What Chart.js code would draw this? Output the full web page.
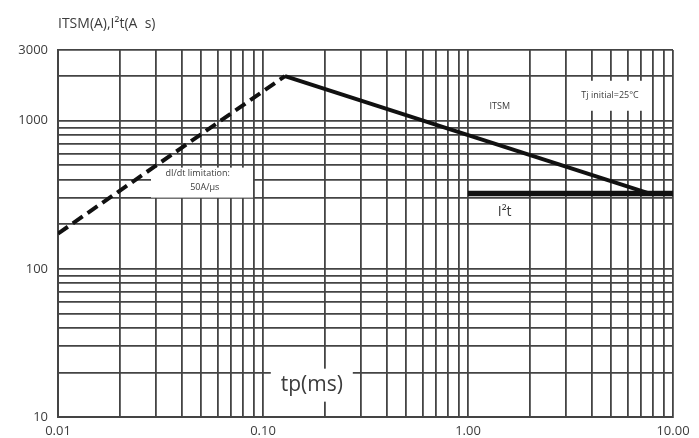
<!DOCTYPE html>
<html>
<head>
<meta charset="utf-8">
<script src="https://cdn.jsdelivr.net/npm/chart.js@4/dist/chart.umd.min.js"></script>
<style>
    html, body { margin: 0; padding: 0; background: #fff; }
    #wrap { width: 699px; height: 438px; }
</style>
</head>
<body>
<div id="wrap"><canvas id="chart" width="699" height="438"></canvas></div>
<script>
// grid values (log-paper lines) and labelled ticks
const xGrid = [0.01, 0.02, 0.03, 0.04, 0.05, 0.06, 0.07, 0.08, 0.09,
               0.1, 0.2, 0.3, 0.4, 0.5, 0.6, 0.7, 0.8, 0.9,
               1, 2, 3, 4, 5, 6, 7, 8, 9, 10];
const yGrid = [10, 20, 30, 40, 50, 60, 70, 80, 90,
               100, 200, 300, 400, 500, 600, 700, 800, 900,
               1000, 2000, 3000];
const xLabelled = [0.01, 0.1, 1, 10];
const yLabelled = [10, 100, 1000, 3000];

// curves
const dashX = [0.01, 0.128];
const dashY = [173, 2000];
const itsmX = [0.128, 7.7];
const itsmY = [2000, 322];
const i2tX = [1, 10];
const i2tY = [322, 322];

const toPoints = (xs, ys) => xs.map((x, i) => ({x: x, y: ys[i]}));

const gridColor = '#444';
const textColor = '#3c3c3c';
const fontFamily = "'Open Sans', 'DejaVu Sans', sans-serif";

const notes = {
    id: 'notes',
    beforeDatasetsDraw(chart) {
        const {ctx, scales: {x, y}} = chart;
        ctx.save();
        ctx.fillStyle = '#fff';
        // white boxes that break the grid under labels
        const boxes = [
            [0.0504, 382, 102, 30],
            [4.93, 1473, 78, 30],
            [0.173, 16.4, 82, 33],
            [1.51, 240, 26, 16],
            [1.43, 1242, 28, 12]
        ];
        boxes.forEach(b => {
            const cx = x.getPixelForValue(b[0]);
            const cy = y.getPixelForValue(b[1]);
            ctx.fillRect(cx - b[2] / 2, cy - b[3] / 2, b[2], b[3]);
        });
        ctx.restore();
    },
    afterDatasetsDraw(chart) {
        const {ctx, chartArea, scales: {x, y}} = chart;
        ctx.save();
        ctx.fillStyle = textColor;
        ctx.textAlign = 'center';
        ctx.textBaseline = 'middle';

        ctx.font = `9px ${fontFamily}`;
        ctx.fillText('dI/dt limitation:', x.getPixelForValue(0.048), y.getPixelForValue(440));
        ctx.fillText('50A/µs', x.getPixelForValue(0.052), y.getPixelForValue(355));
        ctx.fillText('Tj initial=25°C', x.getPixelForValue(4.93), y.getPixelForValue(1473));
        ctx.fillText('ITSM', x.getPixelForValue(1.43), y.getPixelForValue(1242));

        ctx.font = `14px ${fontFamily}`;
        ctx.fillText('I²t', x.getPixelForValue(1.51), y.getPixelForValue(240));

        ctx.font = `21px ${fontFamily}`;
        ctx.fillText('tp(ms)', x.getPixelForValue(0.173), y.getPixelForValue(16.4));

        ctx.font = `14px ${fontFamily}`;
        ctx.textAlign = 'left';
        ctx.fillText('ITSM(A),I²t(A  s)', chartArea.left, 24);
        ctx.restore();
    }
};

new Chart(document.getElementById('chart'), {
    type: 'scatter',
    data: {
        datasets: [
            {
                data: toPoints(dashX, dashY),
                showLine: true,
                borderColor: '#111',
                borderWidth: 4,
                borderDash: [12, 6],
                pointRadius: 0
            },
            {
                data: toPoints(itsmX, itsmY),
                showLine: true,
                borderColor: '#111',
                borderWidth: 4,
                pointRadius: 0
            },
            {
                data: toPoints(i2tX, i2tY),
                showLine: true,
                borderColor: '#111',
                borderWidth: 5.5,
                pointRadius: 0
            }
        ]
    },
    options: {
        responsive: false,
        animation: false,
        events: [],
        layout: {padding: {top: 50, right: 26, left: 0, bottom: 0}},
        plugins: {legend: {display: false}, tooltip: {enabled: false}},
        scales: {
            x: {
                type: 'logarithmic',
                min: 0.01,
                max: 10,
                afterBuildTicks: scale => { scale.ticks = xGrid.map(v => ({value: v})); },
                afterFit: scale => { scale.height = 21; },
                border: {color: gridColor, width: 2},
                grid: {color: gridColor, lineWidth: 1.8, drawTicks: false},
                ticks: {
                    autoSkip: false,
                    maxRotation: 0,
                    padding: 6,
                    color: textColor,
                    font: {family: fontFamily, size: 13},
                    callback: v => xLabelled.includes(v) ? v.toFixed(2) : ''
                }
            },
            y: {
                type: 'logarithmic',
                min: 10,
                max: 3000,
                afterBuildTicks: scale => { scale.ticks = yGrid.map(v => ({value: v})); },
                afterFit: scale => { scale.width = 58; },
                border: {color: gridColor, width: 2},
                grid: {color: gridColor, lineWidth: 1.8, drawTicks: false},
                ticks: {
                    autoSkip: false,
                    padding: 10,
                    color: textColor,
                    font: {family: fontFamily, size: 13},
                    callback: v => yLabelled.includes(v) ? String(v) : ''
                }
            }
        }
    },
    plugins: [notes]
});
</script>
</body>
</html>
